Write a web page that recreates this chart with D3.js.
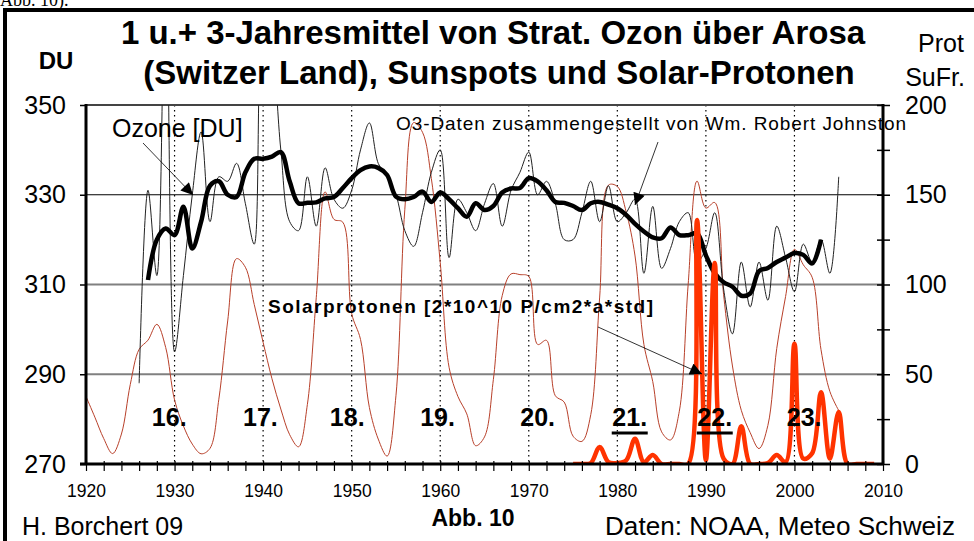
<!DOCTYPE html>
<html>
<head>
<meta charset="utf-8">
<script src="https://cdn.jsdelivr.net/npm/d3@7"></script>
<style>
  body { margin: 0; background: #fff; }
  svg { display: block; font-family: "Liberation Sans", Arial, sans-serif; }
</style>
</head>
<body>
<svg id="chart" width="974" height="541"></svg>
<script>
// yearly sunspot numbers (right axis), 1920-2005
var sunYears = d3.range(1920, 2006);
var sunspots = [37.6, 26.1, 14.2, 5.8, 16.7, 44.3, 63.9, 69.0, 77.8, 64.9,
  35.7, 21.2, 11.1, 5.7, 8.7, 36.1, 79.7, 114.4, 109.6, 88.8,
  67.8, 47.5, 30.6, 16.3, 9.6, 33.2, 92.6, 151.6, 136.3, 134.7,
  83.9, 69.4, 31.5, 13.9, 4.4, 38.0, 141.7, 190.2, 184.8, 159.0,
  112.3, 53.9, 37.6, 27.9, 10.2, 15.1, 47.0, 93.8, 105.9, 105.5,
  104.5, 66.6, 68.9, 38.0, 34.5, 15.5, 12.6, 27.5, 92.5, 155.4,
  154.6, 140.4, 115.9, 66.6, 45.9, 17.9, 13.4, 29.4, 100.2, 157.6,
  142.6, 145.7, 94.3, 54.6, 29.9, 17.5, 8.6, 21.5, 64.3, 93.3,
  119.6, 111.0, 104.0, 63.7, 40.4, 29.8];

// Arosa ozone, yearly means [DU], 1926-2005
var ozoneYears = d3.range(1926, 2006);
var ozone1 = [288, 331, 312, 385, 295, 312, 330, 344, 324, 334,
  333, 337, 328, 319, 368, 362, 340, 324, 322, 334,
  323, 336, 329, 327, 331, 340, 346, 337, 334, 330,
  322, 318.5, 326, 335, 340, 316, 329, 326, 322, 328,
  332.5, 323, 331, 335, 339.5, 330, 333, 328, 320, 320,
  326, 333, 324, 332, 324, 326, 329, 312.5, 327.4, 313.6,
  318, 324, 326, 315, 318, 326, 309, 299, 315, 305,
  315, 306.5, 323, 316, 308.4, 319, 315, 320, 312.5, 334];

// 3-year running mean [DU], 1927-2003
var ozone3Years = d3.range(1927, 2004);
var ozone3 = [311, 320, 322.5, 321, 327.3, 318, 324, 332, 333, 330,
  329.5, 335, 338, 338, 338.5, 339.5, 333, 328.1, 328.2, 328.3,
  329.2, 329.5, 331.5, 333.7, 335.5, 336.3, 336, 334.4, 329.6, 329,
  329.5, 330.7, 328.4, 330.5, 329, 327, 325.1, 328.1, 326.6, 327.5,
  330.5, 331.4, 331.5, 333.7, 333, 331, 328.4, 328.2, 327.5, 326.6,
  328.1, 328.4, 327.8, 327, 325.5, 323.5, 321.8, 320.5, 320.3, 322.7,
  321, 321, 321.4, 316.5, 312.5, 310.5, 309.5, 307.5, 308, 313,
  313.7, 315, 316, 317, 316.6, 314.7, 320];

// solar protons [2*10^10 P/cm2*a*std], 1975-2009
var protonYears = d3.range(1975, 2010);
var protons = [0, 0, 0.5, 9.5, 1, 0.5, 2, 14, 1, 5,
  0, 0, 0, 0, 136, 2, 112, 3, 0, 21,
  0, 0, 0.5, 5, 1, 67, 3, 6, 40, 3,
  29, 0, 0, 0, 0];

// solar cycle labels
var cycleNames = ["16.", "17.", "18.", "19.", "20.", "21.", "22.", "23."];
var cycleYears = [1929.4, 1939.7, 1949.5, 1959.7, 1971.0, 1981.4, 1991.0, 2001.1];
var underlined = ["21.", "22."];

var duTicks = [270, 290, 310, 330, 350];
var protTicks = d3.range(0, 201, 25);
var yearTicks = d3.range(1920, 2011, 2);
var decadeLines = d3.range(1930, 2001, 10);

var svg = d3.select("#chart");
var plotL = 86, plotR = 883, plotT = 105, plotB = 464;

var x = d3.scaleLinear().domain([1920, 2010]).range([plotL, plotR]);
var yL = d3.scaleLinear().domain([270, 350]).range([plotB, plotT]);
var yR = d3.scaleLinear().domain([0, 200]).range([plotB, plotT]);

// outer frame
svg.append("path").attr("d", "M5,541V10H974").attr("fill", "none")
  .attr("stroke", "#000").attr("stroke-width", 4);
svg.append("text").attr("x", 0).attr("y", 6).attr("font-family", "Liberation Serif")
  .attr("font-size", 18).text("Abb. 10).");

svg.append("defs").append("clipPath").attr("id", "plotClip")
  .append("rect").attr("x", plotL).attr("y", plotT).attr("width", plotR - plotL).attr("height", plotB - plotT);
svg.select("defs").append("marker").attr("id", "arrow")
  .attr("viewBox", "0 0 10 10").attr("refX", 10).attr("refY", 5)
  .attr("markerWidth", 16).attr("markerHeight", 12).attr("markerUnits", "userSpaceOnUse")
  .attr("orient", "auto")
  .append("path").attr("d", "M0,0L10,5L0,10Z").attr("fill", "#000");

// horizontal grid
svg.append("g").selectAll("line").data([290, 310, 330]).join("line")
  .attr("x1", plotL).attr("x2", plotR)
  .attr("y1", d => yL(d)).attr("y2", d => yL(d))
  .attr("stroke", d => d === 330 ? "#000" : "#808080")
  .attr("stroke-width", d => d === 330 ? 1 : 2);

// dotted decade lines
svg.append("g").selectAll("line").data(decadeLines).join("line")
  .attr("x1", d => x(d)).attr("x2", d => x(d))
  .attr("y1", plotT).attr("y2", plotB)
  .attr("stroke", "#000").attr("stroke-width", 1.2).attr("stroke-dasharray", "1.5,3.5");

// top border
svg.append("line").attr("x1", plotL).attr("x2", plotR).attr("y1", plotT).attr("y2", plotT)
  .attr("stroke", "#444").attr("stroke-width", 2);

var plot = svg.append("g").attr("clip-path", "url(#plotClip)");
var curve = d3.curveCatmullRom.alpha(0.5);

plot.append("path")
  .datum(sunspots.map((v, i) => [sunYears[i], v]))
  .attr("fill", "none").attr("stroke", "#b8402a").attr("stroke-width", 1)
  .attr("d", d3.line().x(d => x(d[0])).y(d => yR(d[1])).curve(curve));

plot.append("path")
  .datum(ozone1.map((v, i) => [ozoneYears[i], v]))
  .attr("fill", "none").attr("stroke", "#222").attr("stroke-width", 1)
  .attr("d", d3.line().x(d => x(d[0])).y(d => yL(d[1])).curve(curve));

plot.append("path")
  .datum(ozone3.map((v, i) => [ozone3Years[i], v]))
  .attr("fill", "none").attr("stroke", "#000").attr("stroke-width", 4.5)
  .attr("stroke-linejoin", "round")
  .attr("d", d3.line().x(d => x(d[0])).y(d => yL(d[1])).curve(curve));

plot.append("path")
  .datum(protons.map((v, i) => [protonYears[i], v]))
  .attr("fill", "none").attr("stroke", "#ff3300").attr("stroke-width", 4.5)
  .attr("stroke-linejoin", "round")
  .attr("d", d3.line().x(d => x(d[0])).y(d => yR(d[1])).curve(curve));

// axes
var xAxis = svg.append("g").attr("transform", `translate(0,${plotB})`)
  .call(d3.axisBottom(x).tickValues(yearTicks).tickSize(7).tickPadding(14)
    .tickFormat(d => d % 10 === 0 ? d : ""));
xAxis.select(".domain").remove();
xAxis.selectAll("line").attr("stroke-width", 1.2).attr("y1", -3);
xAxis.selectAll("text").attr("font-size", 17.5).attr("fill", "#000");

var lAxis = svg.append("g").attr("transform", `translate(${plotL},0)`)
  .call(d3.axisLeft(yL).tickValues(duTicks).tickSize(6).tickPadding(14));
lAxis.select(".domain").remove();
lAxis.selectAll("line").attr("stroke-width", 1.5);
lAxis.selectAll("text").attr("font-size", 25).attr("fill", "#000");

var rAxis = svg.append("g").attr("transform", `translate(${plotR},0)`)
  .call(d3.axisRight(yR).tickValues(protTicks).tickSize(7).tickPadding(15)
    .tickFormat(d => d % 50 === 0 ? d : ""));
rAxis.select(".domain").remove();
rAxis.selectAll("line").attr("x1", -6).attr("stroke-width", 1.5);
rAxis.selectAll("text").attr("font-size", 25).attr("fill", "#000");

svg.append("line").attr("x1", plotL).attr("x2", plotL).attr("y1", plotT - 1).attr("y2", plotB + 1)
  .attr("stroke", "#000").attr("stroke-width", 3);
svg.append("line").attr("x1", plotR).attr("x2", plotR).attr("y1", plotT - 1).attr("y2", plotB + 1)
  .attr("stroke", "#000").attr("stroke-width", 3);
svg.append("line").attr("x1", plotL - 6).attr("x2", plotR).attr("y1", plotB).attr("y2", plotB)
  .attr("stroke", "#000").attr("stroke-width", 3);

// cycle numbers
svg.append("g").selectAll("text").data(cycleNames).join("text")
  .attr("x", (d, i) => x(cycleYears[i])).attr("y", 426)
  .attr("text-anchor", "middle").attr("font-size", 25).attr("font-weight", "bold")
  .text(d => d);
svg.append("g").selectAll("line").data(cycleNames.filter(d => underlined.includes(d))).join("line")
  .attr("x1", d => x(cycleYears[cycleNames.indexOf(d)]) - 18)
  .attr("x2", d => x(cycleYears[cycleNames.indexOf(d)]) + 18)
  .attr("y1", 433).attr("y2", 433).attr("stroke", "#000").attr("stroke-width", 3);

// titles
svg.append("text").attr("x", 493).attr("y", 44).attr("text-anchor", "middle")
  .attr("font-size", 33).attr("font-weight", "bold")
  .text("1 u.+ 3-Jahresmittel von Strat. Ozon über Arosa");
svg.append("text").attr("x", 499).attr("y", 84).attr("text-anchor", "middle")
  .attr("font-size", 33).attr("font-weight", "bold")
  .text("(Switzer Land), Sunspots und Solar-Protonen");
svg.append("text").attr("x", 56).attr("y", 69).attr("text-anchor", "middle")
  .attr("font-size", 24).attr("font-weight", "bold").text("DU");
svg.append("text").attr("x", 941).attr("y", 52).attr("text-anchor", "middle")
  .attr("font-size", 25).text("Prot");
svg.append("text").attr("x", 935).attr("y", 86).attr("text-anchor", "middle")
  .attr("font-size", 25).text("SuFr.");

// annotations
svg.append("text").attr("x", 112).attr("y", 137).attr("font-size", 25).text("Ozone [DU]");
svg.append("line").attr("x1", 143).attr("y1", 143).attr("x2", 193).attr("y2", 195)
  .attr("stroke", "#000").attr("stroke-width", 0.8).attr("marker-end", "url(#arrow)");
svg.append("text").attr("x", 396).attr("y", 130).attr("font-size", 19)
  .attr("textLength", 510).attr("lengthAdjust", "spacing")
  .text("O3-Daten zusammengestellt von Wm. Robert  Johnston");
svg.append("line").attr("x1", 658).attr("y1", 142).attr("x2", 635).attr("y2", 205)
  .attr("stroke", "#000").attr("stroke-width", 0.8).attr("marker-end", "url(#arrow)");
svg.append("text").attr("x", 268).attr("y", 313).attr("font-size", 19).attr("font-weight", "bold")
  .attr("textLength", 385).attr("lengthAdjust", "spacing")
  .text("Solarprotonen [2*10^10 P/cm2*a*std]");
svg.append("line").attr("x1", 598).attr("y1", 327).attr("x2", 702).attr("y2", 374)
  .attr("stroke", "#000").attr("stroke-width", 0.8).attr("marker-end", "url(#arrow)");

// footer
svg.append("text").attr("x", 22).attr("y", 535).attr("font-size", 25).text("H. Borchert 09");
svg.append("text").attr("x", 473).attr("y", 526).attr("text-anchor", "middle")
  .attr("font-size", 23).attr("font-weight", "bold").text("Abb. 10");
svg.append("text").attr("x", 955).attr("y", 535).attr("text-anchor", "end")
  .attr("font-size", 25).attr("textLength", 350).attr("lengthAdjust", "spacingAndGlyphs")
  .text("Daten: NOAA, Meteo Schweiz");
</script>
</body>
</html>
